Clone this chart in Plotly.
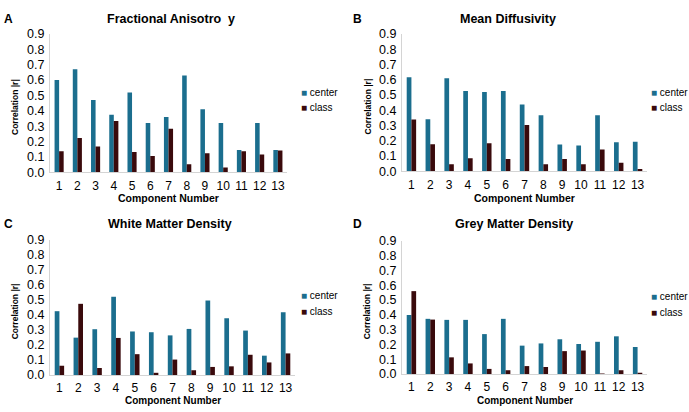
import plotly.graph_objects as go

components = list(range(1, 13 + 1))
component_labels = [str(c) for c in components]
y_ticks = [0.0, 0.1, 0.2, 0.3, 0.4, 0.5, 0.6, 0.7, 0.8, 0.9]

panel_titles = ["Fractional Anisotro  y", "Mean Diffusivity", "White Matter Density", "Grey Matter Density"]
panel_letters = ["A", "B", "C", "D"]
series_names = ["center", "class"]
x_title = "Component Number"
y_title = "Correlation |r|"

fa_center = [0.60, 0.67, 0.47, 0.375, 0.52, 0.32, 0.36, 0.63, 0.41, 0.32, 0.145, 0.32, 0.145]
fa_class = [0.137, 0.223, 0.167, 0.333, 0.132, 0.106, 0.283, 0.051, 0.123, 0.031, 0.137, 0.116, 0.142]

md_center = [0.616, 0.341, 0.610, 0.526, 0.520, 0.526, 0.437, 0.367, 0.175, 0.168, 0.367, 0.190, 0.194]
md_class = [0.340, 0.177, 0.045, 0.085, 0.183, 0.081, 0.303, 0.045, 0.081, 0.045, 0.143, 0.055, 0.015]

wm_center = [0.425, 0.249, 0.305, 0.521, 0.290, 0.285, 0.264, 0.307, 0.496, 0.378, 0.296, 0.129, 0.418]
wm_class = [0.062, 0.474, 0.047, 0.247, 0.139, 0.015, 0.103, 0.032, 0.054, 0.058, 0.135, 0.084, 0.144]

gm_center = [0.399, 0.373, 0.366, 0.366, 0.270, 0.373, 0.192, 0.207, 0.235, 0.203, 0.218, 0.255, 0.183]
gm_class = [0.560, 0.368, 0.113, 0.072, 0.035, 0.026, 0.054, 0.048, 0.155, 0.159, 0.004, 0.026, 0.009]

center_values = [fa_center, md_center, wm_center, gm_center]
class_values = [fa_class, md_class, wm_class, gm_class]

CENTER_COLOR = "#1B6E8E"
CLASS_COLOR = "#3A0A0C"
COLORS = [CENTER_COLOR, CLASS_COLOR]
AXIS_COLOR = "#D4D4D4"
FONT = "Liberation Sans, Arial, sans-serif"

W, H = 689, 412
# pixel boxes of each plot area: (left, right, zero_y, top_y)
boxes = [(50, 287, 171, 28), (402, 647, 170, 28), (50, 295, 381, 241), (402, 647, 380, 242)]
legend_pos = [(299, 88), (649, 88), (299, 299), (649, 300)]
title_pos = [(171, 12), (508, 12), (170, 225), (514, 225)]
letter_pos = [(8, 12), (357, 12), (8, 225), (357, 225)]
xtitle_y = [198, 198, 407, 407]
ytitle_x = [15, 367, 15, 367]

fig = go.Figure()

for i in range(4):
    xa = "x" if i == 0 else f"x{i+1}"
    ya = "y" if i == 0 else f"y{i+1}"
    fig.add_trace(go.Bar(x=components, y=center_values[i], name=series_names[0], marker_color=CENTER_COLOR,
                         marker_line_width=0, xaxis=xa, yaxis=ya, showlegend=False))
    fig.add_trace(go.Bar(x=components, y=class_values[i], name=series_names[1], marker_color=CLASS_COLOR,
                         marker_line_width=0, xaxis=xa, yaxis=ya, showlegend=False))

layout = dict(
    width=W, height=H, margin=dict(l=0, r=0, t=0, b=0),
    paper_bgcolor="white", plot_bgcolor="white",
    barmode="group", bargap=0.5, bargroupgap=0.0,
    font=dict(family=FONT, size=12.5, color="black"),
    showlegend=False,
    annotations=[],
)

for i, (l, r, z, t) in enumerate(boxes):
    xk = "xaxis" if i == 0 else f"xaxis{i+1}"
    yk = "yaxis" if i == 0 else f"yaxis{i+1}"
    ya = "y" if i == 0 else f"y{i+1}"
    xa = "x" if i == 0 else f"x{i+1}"
    layout[xk] = dict(
        domain=[l / W, r / W], anchor=ya, range=[0.5, 13.5],
        tickmode="array", tickvals=components, ticktext=component_labels,
        showline=True, linecolor=AXIS_COLOR, linewidth=1, showgrid=False, zeroline=False,
        ticks="", ticklabelstandoff=2, tickfont=dict(size=12),
        fixedrange=True,
    )
    layout[yk] = dict(
        domain=[(H - z) / H, (H - t) / H], anchor=xa, range=[0, 0.9],
        tickmode="array", tickvals=y_ticks, tickformat=".1f",
        showline=True, linecolor=AXIS_COLOR, linewidth=1, showgrid=False, zeroline=False,
        ticks="", ticklabelstandoff=2, tickfont=dict(size=12.5),
        fixedrange=True,
    )
    # axis titles
    layout["annotations"].append(dict(
        text=x_title, x=(l + r) / 2 / W, y=(H - xtitle_y[i]) / H, xref="paper", yref="paper",
        xanchor="center", yanchor="middle", showarrow=False,
        font=dict(size=10.5 if i < 2 else 10, weight="bold")))
    layout["annotations"].append(dict(
        text=y_title, x=ytitle_x[i] / W, y=(H - (z + t) / 2 - 4) / H, xref="paper", yref="paper",
        xanchor="center", yanchor="middle", showarrow=False, textangle=-90,
        font=dict(size=8.5, weight="bold")))
    # legend entries
    lx, ly = legend_pos[i]
    for k in range(2):
        layout["annotations"].append(dict(
            text=f"<span style='color:{COLORS[k]}'>■</span> {series_names[k]}",
            x=lx / W, y=(H - (ly + 16 * k)) / H, xref="paper", yref="paper",
            xanchor="left", yanchor="middle", showarrow=False,
            font=dict(size=10)))
    tx, ty = title_pos[i]
    layout["annotations"].append(dict(
        text=panel_titles[i], x=tx / W, y=(H - ty) / H, xref="paper", yref="paper",
        xanchor="center", yanchor="middle", showarrow=False,
        font=dict(size=12.5, weight="bold")))
    px_, py_ = letter_pos[i]
    layout["annotations"].append(dict(
        text=panel_letters[i], x=px_ / W, y=(H - py_) / H, xref="paper", yref="paper",
        xanchor="center", yanchor="middle", showarrow=False,
        font=dict(size=12, weight="bold")))

fig.update_layout(**layout)
fig.write_html(
    "out.html",
    config={"displayModeBar": False, "staticPlot": True},
    post_script="document.body.style.margin='0';document.body.style.overflow='hidden';",
)
